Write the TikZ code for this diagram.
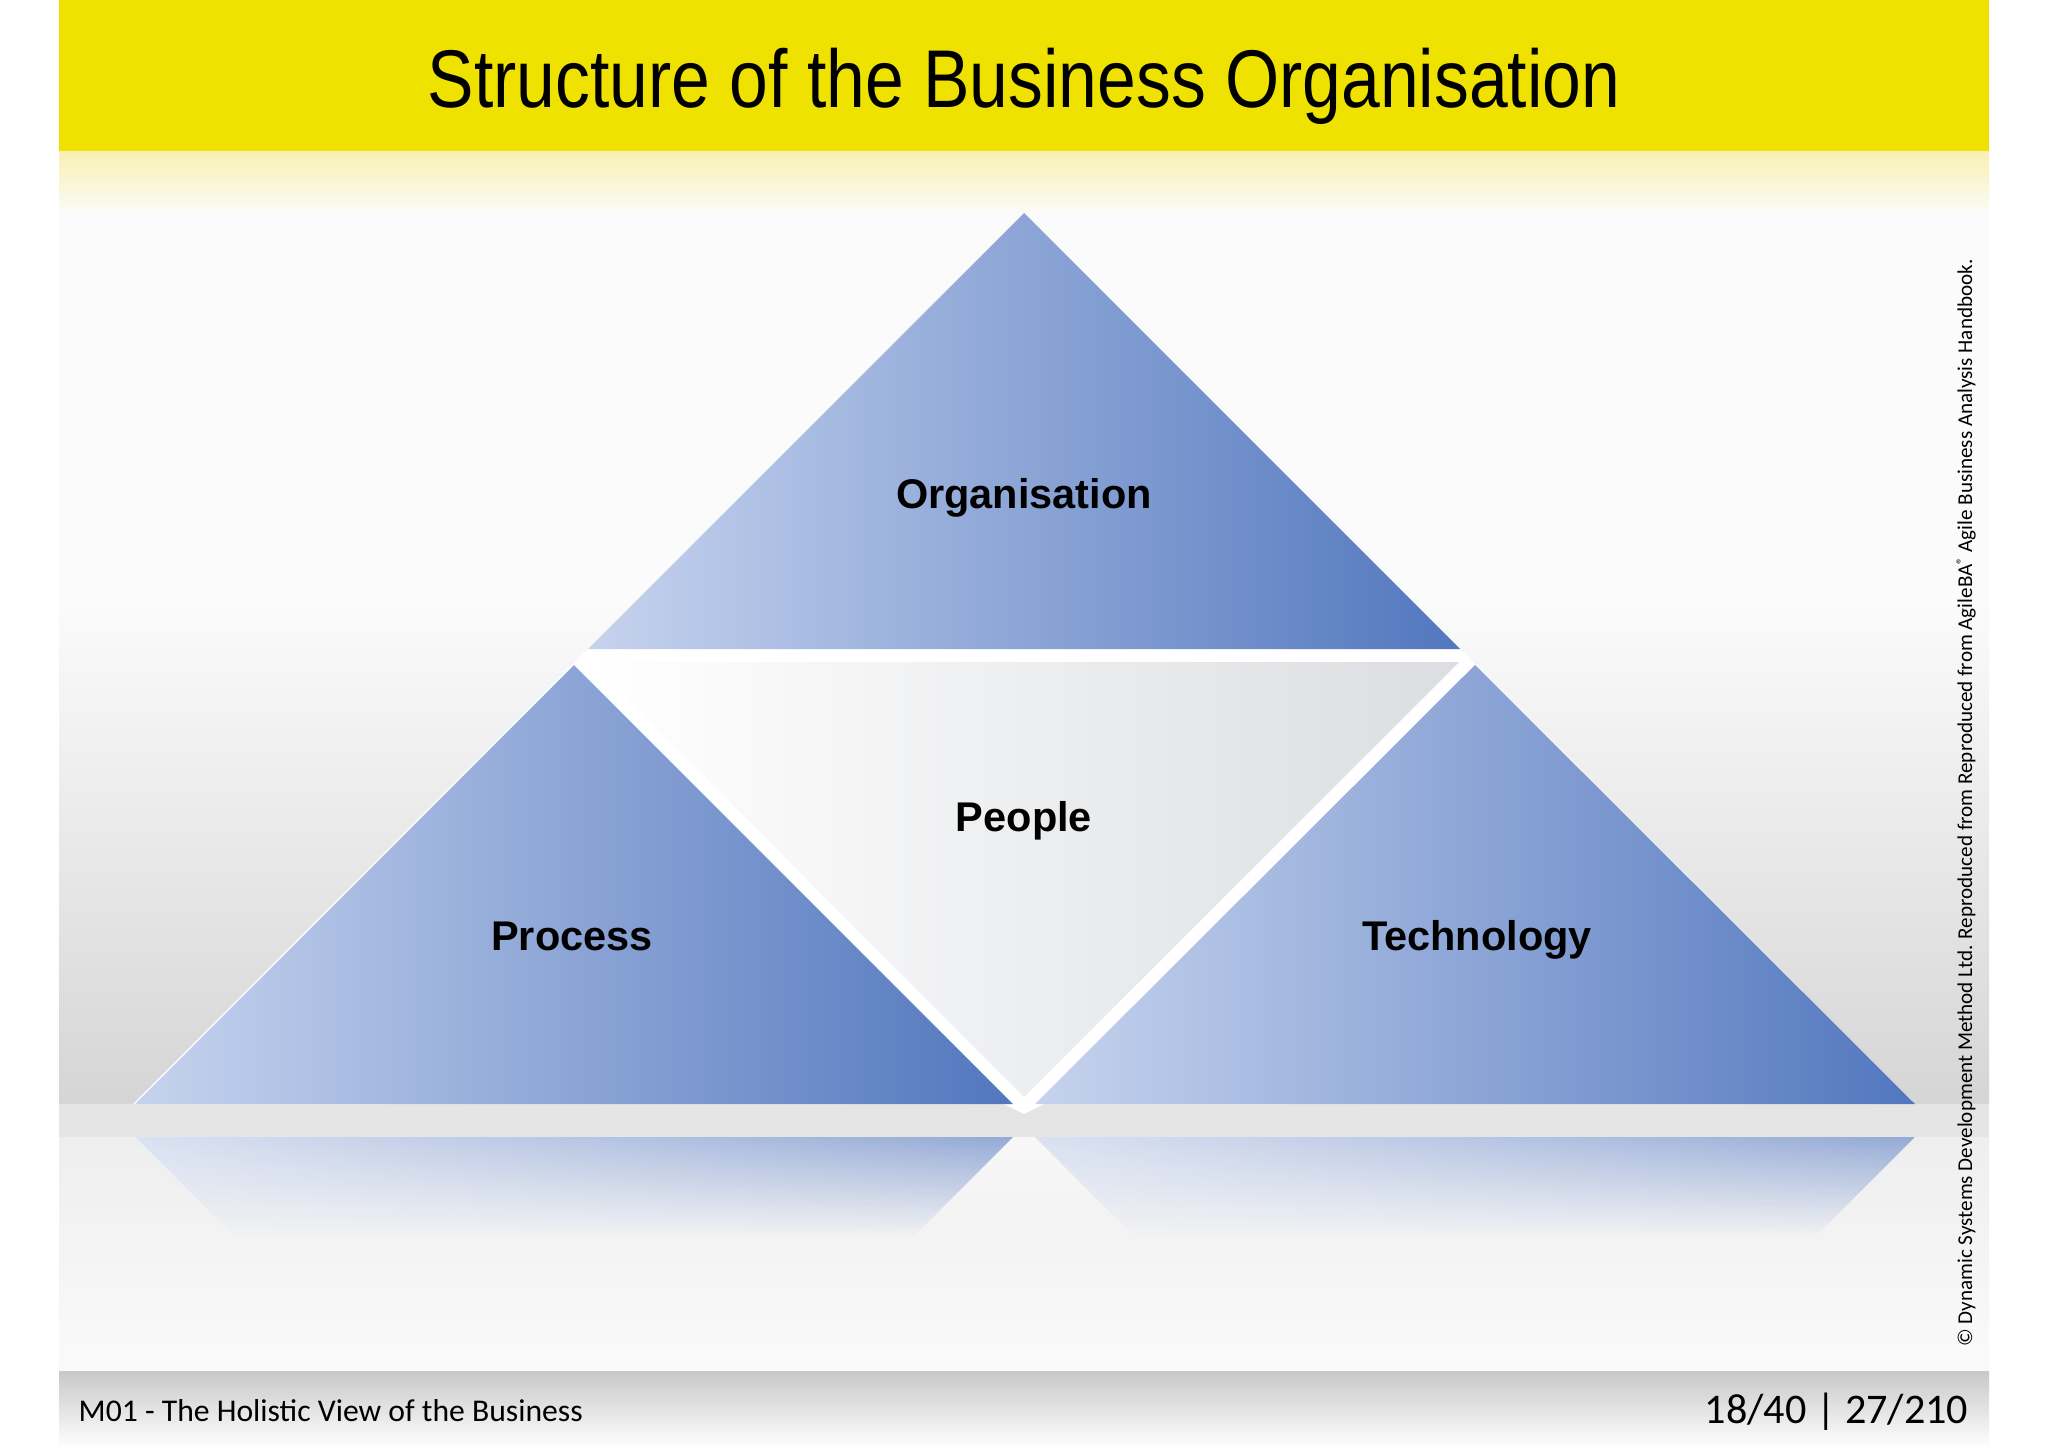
\documentclass[tikz,border=0pt]{standalone}
\usepackage{fontspec}
\setmainfont{Liberation Sans}
\newfontfamily\calibri{Carlito}
\usetikzlibrary{fadings}

\definecolor{bandyellow}{RGB}{240,226,0}
\definecolor{paleyellow}{RGB}{248,240,178}
\definecolor{bglight}{RGB}{251,251,252}
\definecolor{bgdark}{RGB}{213,213,214}
\definecolor{stripgray}{RGB}{229,229,229}
\definecolor{trilight}{RGB}{198,211,238}
\definecolor{trimid}{RGB}{148,167,213}
\definecolor{tridark}{RGB}{82,119,190}
\definecolor{pplgray}{RGB}{219,221,224}

\tikzfading[name=reflfade, top color=transparent!40, bottom color=transparent!100]

\begin{document}
\begin{tikzpicture}[x=0.01cm, y=-0.01cm,
                    bluetri/.style={left color=trilight, middle color=trimid, right color=tridark},
                    ppltri/.style={left color=white, middle color={rgb,255:red,240;green,241;blue,243}, right color=pplgray},
                    lbl/.style={anchor=base, inner sep=0, font=\fontsize{11.8}{14}\selectfont\bfseries}]

  \useasboundingbox (0,0) rectangle (2048,1448);
  \fill[white] (0,0) rectangle (2048,1448);

  % slide background
  \fill[bandyellow] (59,0) rectangle (1989,151);
  \shade[top color=paleyellow, bottom color=bglight] (59,151) rectangle (1989,215);
  \fill[bglight] (59,215) rectangle (1989,600);
  \shade[top color=bglight, bottom color=bgdark] (59,600) rectangle (1989,1104);
  \fill[stripgray] (59,1104) rectangle (1989,1137);
  \shade[top color={rgb,255:red,238;green,238;blue,239}, middle color={rgb,255:red,248;green,248;blue,249}, bottom color={rgb,255:red,250;green,250;blue,251}] (59,1137) rectangle (1989,1371);
  \shade[top color={rgb,255:red,200;green,200;blue,200}, bottom color=white] (59,1371) rectangle (1989,1448);

  % white gaps
  \fill[white] (1024,213) -- (133,1104) -- (1915,1104) -- cycle;
  \fill[white] (1004,1104) -- (1044,1104) -- (1024,1114) -- cycle;

  % triangles
  \shade[bluetri] (1024,213) -- (588,649) -- (1460,649) -- cycle;
  \shade[bluetri] (574,665) -- (135,1104) -- (1013,1104) -- cycle;
  \shade[bluetri] (1475,665) -- (1035,1104) -- (1915,1104) -- cycle;
  \shade[ppltri] (590,662) -- (1459,662) -- (1024,1097) -- cycle;

  % reflections
  \fill[white, path fading=reflfade] (135,1137) -- (1915,1137) -- (1815,1237) -- (235,1237) -- cycle;
  \shade[bluetri, path fading=reflfade] (135,1137) -- (1013,1137) -- (913,1237) -- (235,1237) -- cycle;
  \shade[bluetri, path fading=reflfade] (1035,1137) -- (1915,1137) -- (1815,1237) -- (1135,1237) -- cycle;

  % labels
  \node[lbl] (org)  at (1024,508) {Organisation};
  \node[lbl] (ppl)  at (1024,831) {People};
  \node[lbl] (proc) at (572,950)  {Process};
  \node[lbl] (tech) at (1477,950) {Technology};

  \node[anchor=base, inner sep=0] (title) at (1024,107)
    {\scalebox{0.85}[1]{\fontsize{23.3}{28}\selectfont Structure of the Business Organisation}};

  \node[anchor=base west, inner sep=0, font=\calibri\fontsize{9}{10}\selectfont] (module) at (78,1421)
    {M01 - The Holistic View of the Business};
  \node[anchor=base east, inner sep=0, font=\calibri\fontsize{12}{14}\selectfont] (page) at (1969,1423)
    {18/40 | 27/210};

  \node[rotate=90, inner sep=0, font=\calibri\fontsize{6}{7}\selectfont] (copy) at (1966,803)
    {\textcopyright{} Dynamic Systems Development Method Ltd. Reproduced from Reproduced from AgileBA\raisebox{0.6ex}{\fontsize{4}{4}\selectfont\textregistered} Agile Business Analysis Handbook.};
\end{tikzpicture}
\end{document}
